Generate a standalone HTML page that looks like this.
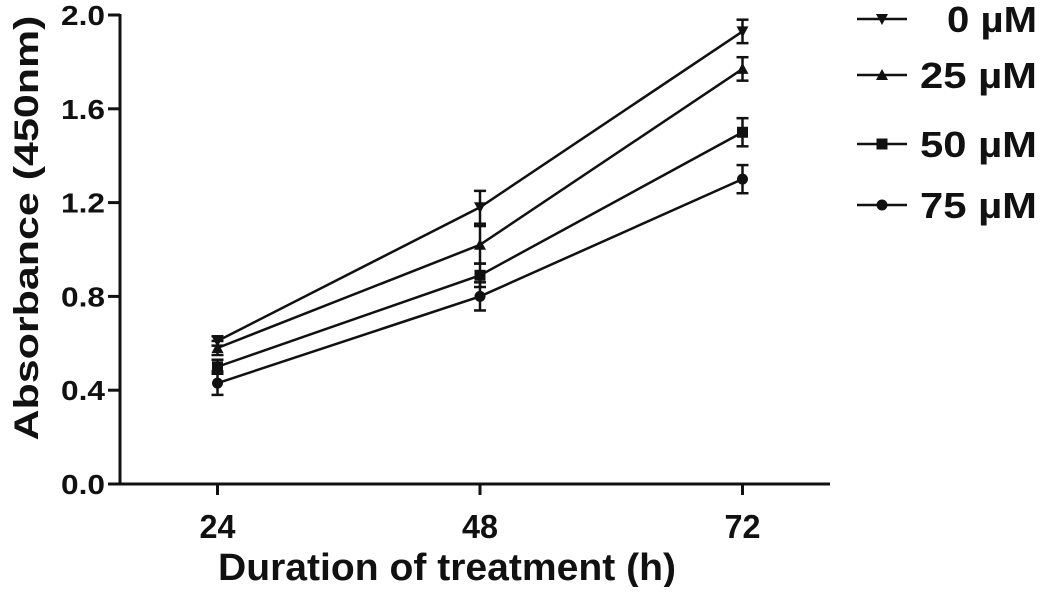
<!DOCTYPE html>
<html><head><meta charset="utf-8"><style>
body{margin:0;background:#fff}
svg text{font-family:"Liberation Sans",Arial,sans-serif;font-weight:bold;fill:#111}
</style></head><body>
<svg id="chart" width="1043" height="587" viewBox="0 0 1043 587" xmlns="http://www.w3.org/2000/svg"></svg>
<script>
const categories=[24,48,72];
const yTicks=[0.0,0.4,0.8,1.2,1.6,2.0];
const seriesNames=["0 µM","25 µM","50 µM","75 µM"];
const s0=[0.61,1.18,1.93];
const s25=[0.58,1.02,1.77];
const s50=[0.50,0.89,1.50];
const s75=[0.43,0.80,1.30];
const e0=[0.02,0.07,0.05];
const e25=[0.03,0.08,0.05];
const e50=[0.03,0.05,0.06];
const e75=[0.05,0.06,0.06];
const markers=["tri-down","tri-up","square","circle"];
const NS="http://www.w3.org/2000/svg";
const svg=document.getElementById('chart');
function X(v){return 217.5+(v-24)*(262.5/24);}
function Y(v){return 484-v*234.5;}
function el(t,a,p){const e=document.createElementNS(NS,t);for(const k in a)e.setAttribute(k,a[k]);(p||svg).appendChild(e);return e;}
const ax=el('line',{x1:120,y1:14,x2:120,y2:485,stroke:'#111','stroke-width':3});


const xa=el('line',{x1:112,y1:484,x2:830,y2:484,stroke:'#111','stroke-width':3});


yTicks.forEach(v=>{
 el('line',{x1:108,y1:Y(v),x2:120,y2:Y(v),stroke:'#111','stroke-width':3});
 const t=el('text',{x:105,y:Y(v)+10,'text-anchor':'end','font-size':28,textLength:44,lengthAdjust:'spacingAndGlyphs'});
 t.textContent=v.toFixed(1);
 
 
});
categories.forEach(c=>{
 el('line',{x1:X(c),y1:484,x2:X(c),y2:495,stroke:'#111','stroke-width':3});
 const t=el('text',{x:X(c),y:538,'text-anchor':'middle','font-size':33,textLength:36,lengthAdjust:'spacingAndGlyphs'});
 t.textContent=c;
 
 
});
const xt=el('text',{x:447,y:580,'text-anchor':'middle','font-size':38,textLength:458,lengthAdjust:'spacingAndGlyphs'});
xt.textContent='Duration of treatment (h)';


const yt=el('text',{x:0,y:0,'text-anchor':'middle','font-size':34,textLength:425,lengthAdjust:'spacingAndGlyphs',transform:'translate(38,228) rotate(-90)'});
yt.textContent='Absorbance (450nm)';


function marker(type,x,y,g){
 if(type==='tri-down')el('polygon',{points:`${x-6},${y-5} ${x+6},${y-5} ${x},${y+6}`,fill:'#111'},g);
 else if(type==='tri-up')el('polygon',{points:`${x-6},${y+5} ${x+6},${y+5} ${x},${y-6}`,fill:'#111'},g);
 else if(type==='square')el('rect',{x:x-5.5,y:y-5.5,width:11,height:11,fill:'#111'},g);
 else el('circle',{cx:x,cy:y,r:5.5,fill:'#111'},g);
}
const allS=[s0,s25,s50,s75],allE=[e0,e25,e50,e75];
allS.forEach((s,i)=>{
 const g=el('g',{});
 
 
 el('polyline',{points:s.map((v,j)=>X(categories[j])+','+Y(v)).join(' '),fill:'none',stroke:'#111','stroke-width':2.5},g);
 s.forEach((v,j)=>{
  const x=X(categories[j]),e=allE[i][j];
  el('line',{x1:x,y1:Y(v+e),x2:x,y2:Y(v-e),stroke:'#111','stroke-width':2.5},g);
  el('line',{x1:x-6,y1:Y(v+e),x2:x+6,y2:Y(v+e),stroke:'#111','stroke-width':2.5},g);
  el('line',{x1:x-6,y1:Y(v-e),x2:x+6,y2:Y(v-e),stroke:'#111','stroke-width':2.5},g);
  marker(markers[i],x,Y(v),g);
 });
 const ly=[19,75,144,205][i];
 const lg=el('g',{});
 
 
 el('line',{x1:857,y1:ly,x2:907,y2:ly,stroke:'#111','stroke-width':2.5},lg);
 marker(markers[i],882,ly,lg);
 const w=i===0?90:117;
 const t=el('text',{x:1037,y:ly+13,'text-anchor':'end','font-size':36,textLength:w,lengthAdjust:'spacingAndGlyphs'},lg);
 t.textContent=seriesNames[i];
});
</script>
</body></html>
